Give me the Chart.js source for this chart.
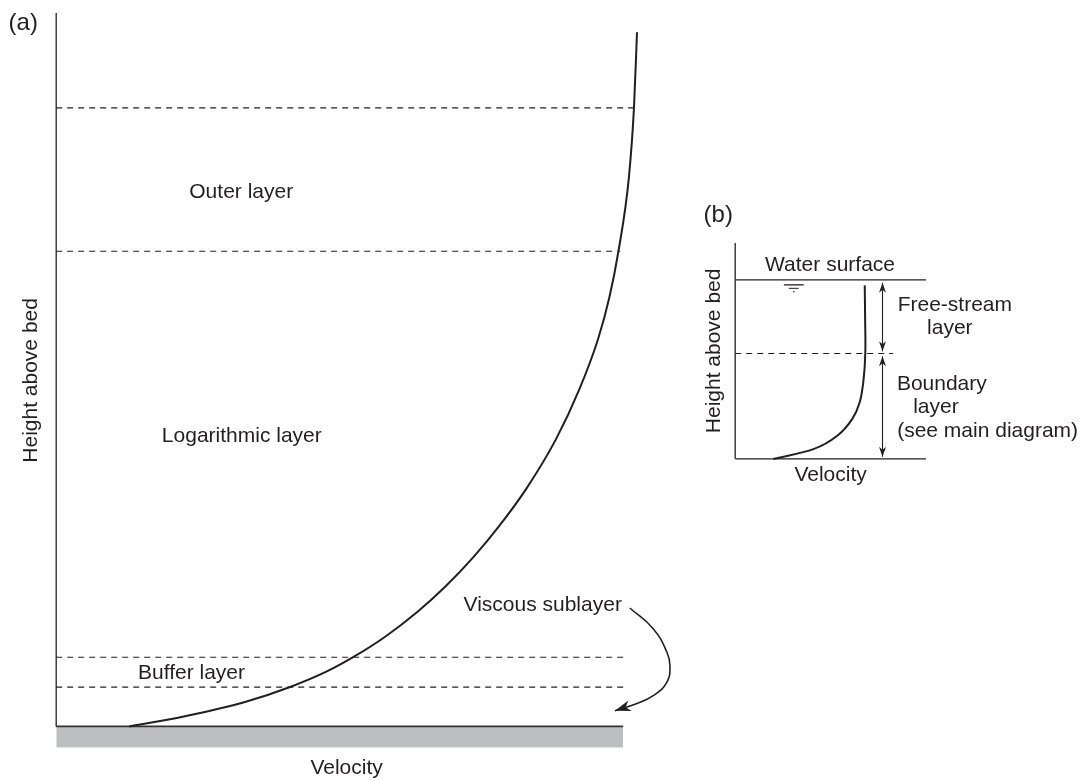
<!DOCTYPE html>
<html>
<head>
<meta charset="utf-8">
<title>Velocity profile - boundary layer</title>
<script src="https://cdn.jsdelivr.net/npm/chart.js@4.4.1/dist/chart.umd.min.js"></script>
<style>
    html, body { margin: 0; padding: 0; background: #fff; }
    body { width: 1086px; height: 781px; position: relative; overflow: hidden; }
    #main { position: absolute; left: 0; top: 0; }
    #inset { position: absolute; left: 690px; top: 200px; }
</style>
</head>
<body>
<canvas id="main" width="700" height="781"></canvas>
<canvas id="inset" width="396" height="300"></canvas>
<script>
// (a) main diagram, velocity vs height above bed (arbitrary units)
var profileVelocity = [12.2, 21.3, 31.8, 39.3, 45.2, 49.8, 55.0, 60.4, 65.0, 69.75, 73.9, 78.5, 83.5, 87.4, 90.5, 92.4, 93.9, 95.65, 96.5, 97.0];
var profileHeight   = [0, 1.4, 3.5, 5.6, 7.7, 9.8, 12.6, 16.1, 19.6, 23.8, 28.0, 33.3, 40.3, 47.3, 54.3, 60.2, 66.6, 77.0, 86.8, 97.3];
var layerBoundaries = [86.7, 66.6, 9.7, 5.5];
var boundaryEnds    = [96.5, 94.2, 94.7, 94.7];
var bedLength = 94.7;
var bedDepth = -3;
var axisTop = 100;
var sublayerArrowX = [95.8, 99.7, 102.0, 102.5, 102.0, 99.7, 97.0, 93.3];
var sublayerArrowY = [16.6, 13.7, 10.4, 8.5, 6.2, 4.3, 3.2, 2.2];
var layerNames = ['Outer layer', 'Logarithmic layer', 'Buffer layer', 'Viscous sublayer'];

// (b) inset, whole flow depth
var insetVelocity = [20.5, 41.3, 53.5, 61.3, 65.3, 67.3, 68.2, 68.1, 67.9];
var insetHeight   = [0, 4.6, 10.7, 18.4, 26.3, 36.9, 49.3, 64.5, 79.9];
var waterSurface = 82.9;
var freeStreamBase = 48.8;
var freeStreamLineEnd = 82.8;
var arrowX = 77.2;
var freeStreamArrow = [81.6, 49.8];
var boundaryArrow = [47.5, 0.9];
var insetNames = ['Water surface', 'Free-stream', 'layer', 'Boundary', 'layer', '(see main diagram)'];

var ink = '#231f20';
var family = '"Liberation Sans", Arial, Helvetica, sans-serif';
Chart.defaults.font.family = family;

function pairs(xs, ys) {
    return xs.map(function(x, i){ return {x: x, y: ys[i]}; });
}
function hline(y, x0, x1) {
    return [{x: x0, y: y}, {x: x1, y: y}];
}
function vline(x, y0, y1) {
    return [{x: x, y: y0}, {x: x, y: y1}];
}
function line(data, extra) {
    var ds = {data: data, showLine: true, pointRadius: 0, borderColor: ink, borderWidth: 1.3, fill: false, clip: false};
    for (var k in extra) ds[k] = extra[k];
    return ds;
}

function arrowHead(ctx, from, to, len, wid) {
    var a = Math.atan2(to.y - from.y, to.x - from.x);
    ctx.save();
    ctx.translate(to.x, to.y);
    ctx.rotate(a);
    ctx.beginPath();
    ctx.moveTo(0, 0);
    ctx.lineTo(-len, -wid / 2);
    ctx.lineTo(-len * 0.7, 0);
    ctx.lineTo(-len, wid / 2);
    ctx.closePath();
    ctx.fillStyle = ink;
    ctx.fill();
    ctx.restore();
}

// text labels placed in data units + arrow heads on flagged datasets
var annotate = {
    id: 'annotate',
    afterDatasetsDraw: function(chart, args, opts) {
        var ctx = chart.ctx, xs = chart.scales.x, ys = chart.scales.y;
        chart.data.datasets.forEach(function(ds, i){
            if (!ds.arrow) return;
            var pts = chart.getDatasetMeta(i).data, n = pts.length;
            var last = pts[n - 1], prev = pts[n - 2];
            var from = (last.cp1x !== undefined && Math.abs(last.cp1x - last.x) + Math.abs(last.cp1y - last.y) > 0.5)
                ? {x: last.cp1x, y: last.cp1y} : prev;
            arrowHead(ctx, from, last, ds.arrowSize[0], ds.arrowSize[1]);
            if (ds.arrow === 'both') arrowHead(ctx, pts[1], pts[0], ds.arrowSize[0], ds.arrowSize[1]);
        });
        ctx.save();
        ctx.fillStyle = ink;
        ctx.textAlign = 'center';
        ctx.textBaseline = 'middle';
        (opts.items || []).forEach(function(t){
            ctx.font = (t.size || 21) + 'px ' + family;
            ctx.fillText(t.text, xs.getPixelForValue(t.x), ys.getPixelForValue(t.y));
        });
        ctx.restore();
    }
};

function axis(min, max, title, pad) {
    return {
        type: 'linear', min: min, max: max,
        grid: {display: false, drawTicks: false},
        border: {display: false},
        ticks: {display: false},
        title: {display: true, text: title, color: ink, font: {size: 21}, padding: pad}
    };
}

function baseOptions(padding, xAxis, yAxis, items) {
    return {
        responsive: false,
        animation: false,
        events: [],
        layout: {padding: padding},
        scales: {x: xAxis, y: yAxis},
        plugins: {legend: {display: false}, tooltip: {enabled: false}, annotate: {items: items}}
    };
}

// ---- (a)
var mainSets = [
    line(pairs(profileVelocity, profileHeight), {borderWidth: 2, cubicInterpolationMode: 'monotone', borderCapStyle: 'butt'}),
    line(pairs(sublayerArrowX, sublayerArrowY), {borderWidth: 1.6, tension: 0.45, arrow: 'end', arrowSize: [16, 11]}),
    line(vline(0, 0, axisTop), {borderWidth: 1.3})
];
layerBoundaries.forEach(function(h, i){
    mainSets.push(line(hline(h, 0, boundaryEnds[i]), {borderColor: ink, borderWidth: 1.1, borderDash: [6, 5]}));
});
mainSets.push(line(hline(0, 0, bedLength), {borderColor: '#333', borderWidth: 1.6, fill: {value: bedDepth}, backgroundColor: '#bcbec0'}));

var mainLabels = [
    {text: '(a)', x: -5.5, y: 98.6, size: 24},
    {text: layerNames[0], x: 30.9, y: 74.9},
    {text: layerNames[1], x: 31.0, y: 40.7},
    {text: layerNames[2], x: 22.6, y: 7.4},
    {text: layerNames[3], x: 81.25, y: 17.0}
];

new Chart(document.getElementById('main'), {
    type: 'scatter',
    data: {datasets: mainSets},
    options: baseOptions({left: 15, top: 13, right: 63, bottom: 0},
        axis(0, 97, 'Velocity', {top: 8, bottom: 0}),
        axis(bedDepth, axisTop, 'Height above bed', {top: 4, bottom: 12}),
        mainLabels),
    plugins: [annotate]
});

// ---- (b)
var insetSets = [
    line(pairs(insetVelocity, insetHeight), {borderWidth: 2, tension: 0.35, borderCapStyle: 'square'}),
    line(vline(0, 0, 100)),
    line(hline(0, 0, 100)),
    line(hline(waterSurface, 0, 100)),
    line(hline(freeStreamBase, 0, freeStreamLineEnd), {borderColor: ink, borderWidth: 1.1, borderDash: [6, 5]}),
    line(vline(arrowX, freeStreamArrow[0], freeStreamArrow[1]), {borderWidth: 1.1, arrow: 'both', arrowSize: [10, 7]}),
    line(vline(arrowX, boundaryArrow[0], boundaryArrow[1]), {borderWidth: 1.1, arrow: 'both', arrowSize: [10, 7]}),
    // water level sign
    line(hline(80.6, 25.5, 35.9), {borderWidth: 1.3}),
    line(hline(79.0, 28.1, 33.3), {borderWidth: 1}),
    {data: [{x: 30.7, y: 77.4}], pointRadius: 0.8, pointBackgroundColor: ink, pointBorderWidth: 0, clip: false}
];

var insetLabels = [
    {text: '(b)', x: -8.9, y: 112.9, size: 24},
    {text: insetNames[0], x: 49.7, y: 89.9},
    {text: insetNames[1], x: 115.1, y: 71.4},
    {text: insetNames[2], x: 112.5, y: 60.4},
    {text: insetNames[3], x: 108.3, y: 34.6},
    {text: insetNames[4], x: 105.2, y: 24.0},
    {text: insetNames[5], x: 132.3, y: 12.9}
];

new Chart(document.getElementById('inset'), {
    type: 'scatter',
    data: {datasets: insetSets},
    options: baseOptions({left: 12, top: 43, right: 160, bottom: 12},
        axis(0, 100, 'Velocity', {top: 4, bottom: 0}),
        axis(0, 100, 'Height above bed', {top: 0, bottom: 8}),
        insetLabels),
    plugins: [annotate]
});
</script>
</body>
</html>
